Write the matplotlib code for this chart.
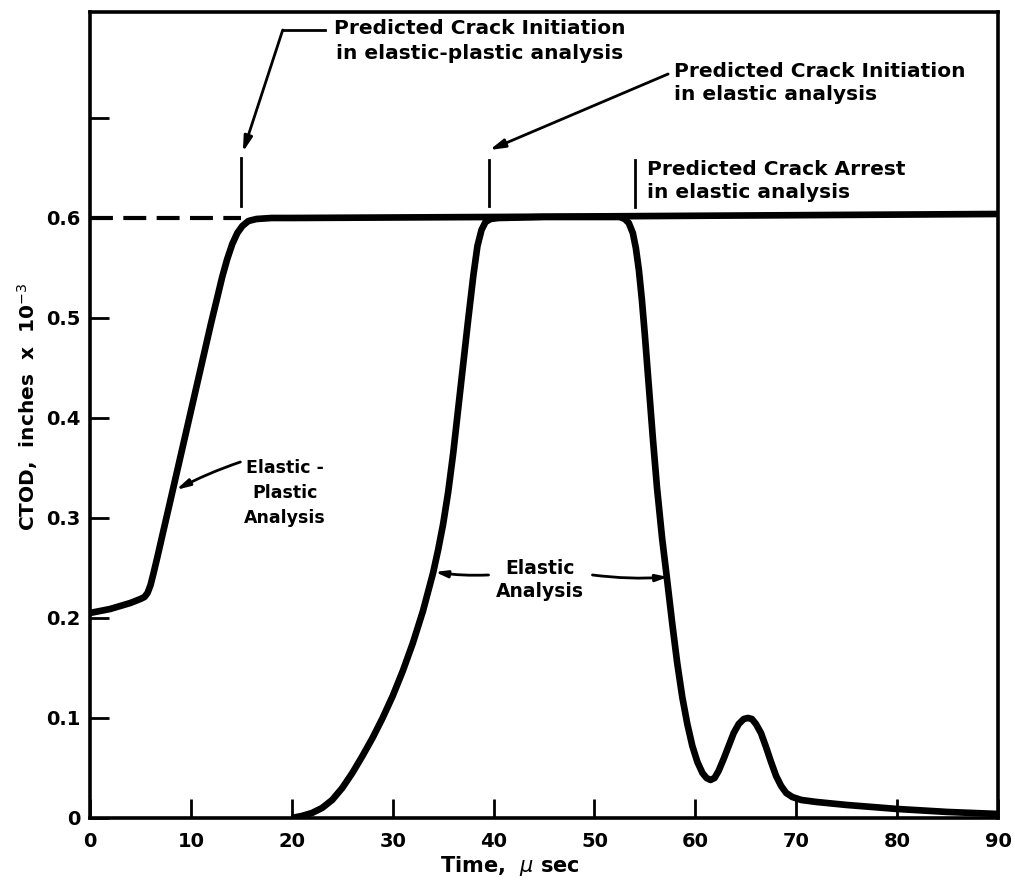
import matplotlib
matplotlib.use("Agg")
import matplotlib.pyplot as plt

# elastic-plastic analysis: CTOD (inches x 1e-3) vs time (micro sec)
ep_time = [0, 1, 2, 3, 4, 5.0, 5.4, 5.7, 6.0, 6.3, 6.7, 7.2, 8, 9, 10, 11,
           12, 12.6, 13.1, 13.6, 14.1, 14.6, 15.1, 15.7, 16.5, 18, 20, 40,
           90]
ep_ctod = [0.205, 0.207, 0.209, 0.212, 0.215, 0.219, 0.221, 0.225, 0.233,
           0.245, 0.262, 0.284, 0.319, 0.363, 0.407, 0.451, 0.495, 0.52,
           0.541, 0.559, 0.574, 0.585, 0.592, 0.597, 0.599, 0.6, 0.6, 0.601,
           0.604]

# elastic analysis
el_time = [20, 21, 22, 23, 24, 25, 26, 27, 28, 29, 30, 31, 32, 33, 34,
           34.5, 35, 35.5, 36, 36.5, 37, 37.5, 38, 38.4, 38.8, 39.2, 39.7,
           40.5, 45, 52.5, 53.0, 53.4, 53.8, 54.1, 54.4, 54.7, 55.0, 55.4,
           55.8, 56.2, 56.7, 57.2, 57.7, 58.2, 58.7, 59.2, 59.7, 60.2, 60.7,
           61.1, 61.5, 61.9, 62.3, 62.8, 63.3, 63.8, 64.3, 64.8, 65.2, 65.6,
           66.0, 66.5, 67.0, 67.5, 68.0, 68.5, 69.0, 69.6, 70.5, 72, 75, 80,
           85, 90]
el_ctod = [0.0, 0.002, 0.005, 0.010, 0.018, 0.030, 0.045, 0.062, 0.080,
           0.100, 0.122, 0.147, 0.175, 0.207, 0.245, 0.268, 0.294, 0.326,
           0.365, 0.41, 0.455, 0.5, 0.543, 0.572, 0.588, 0.596, 0.599, 0.6,
           0.601, 0.601, 0.599, 0.595, 0.585, 0.57, 0.548, 0.518, 0.482,
           0.43, 0.378, 0.33, 0.28, 0.238, 0.195, 0.155, 0.121, 0.094,
           0.072, 0.056, 0.045, 0.04, 0.038, 0.04, 0.047, 0.059, 0.072,
           0.085, 0.094, 0.099, 0.1, 0.099, 0.094, 0.085, 0.071, 0.056,
           0.042, 0.032, 0.025, 0.021, 0.018, 0.016, 0.013, 0.009, 0.006,
           0.004]

# critical CTOD level and the predicted events
ctod_crit = 0.6
t_init_ep = 15.0
t_init_el = 39.5
t_arrest_el = 54.0

x_ticks = [0, 10, 20, 30, 40, 50, 60, 70, 80, 90]
y_ticks = [0, 0.1, 0.2, 0.3, 0.4, 0.5, 0.6, 0.7]
y_labels = ["0", "0.1", "0.2", "0.3", "0.4", "0.5", "0.6", ""]

fig = plt.figure(figsize=(10.15, 8.82), dpi=100)
ax = fig.add_axes([0.0887, 0.0726, 0.8946, 0.9138])

plt.rcParams["font.family"] = ["DejaVu Sans"]
fw = "bold"
note_fs = 14.5

ax.plot(ep_time, ep_ctod, color="black", lw=4.8, solid_capstyle="butt",
        solid_joinstyle="round")
ax.plot(el_time, el_ctod, color="black", lw=4.8, solid_capstyle="butt",
        solid_joinstyle="round")

# dashed critical level up to elastic-plastic initiation
ax.plot([0, t_init_ep], [ctod_crit, ctod_crit], color="black", lw=3,
        linestyle=(0, (5.5, 2.5)))

# short vertical markers at the predicted events
ax.plot([t_init_ep, t_init_ep], [0.612, 0.66], color="black", lw=2)
ax.plot([t_init_el, t_init_el], [0.612, 0.658], color="black", lw=2)
ax.plot([t_arrest_el, t_arrest_el], [0.611, 0.658], color="black", lw=2)

arrow_kw = dict(arrowstyle="-|>,head_length=0.9,head_width=0.25",
                color="black", lw=2, shrinkA=0, shrinkB=0)

# elastic-plastic initiation: leader with a knee
ax.plot([23.3, 19.1], [0.788, 0.788], color="black", lw=2)
ax.annotate("", xy=(t_init_ep + 0.15, 0.666), xytext=(19.1, 0.788),
            arrowprops=arrow_kw)
ax.text(38.6, 0.789, "Predicted Crack Initiation", ha="center", va="center",
        fontsize=note_fs, fontweight=fw)
ax.text(38.6, 0.764, "in elastic-plastic analysis", ha="center",
        va="center", fontsize=note_fs, fontweight=fw)

# elastic initiation
ax.annotate("", xy=(t_init_el + 0.1, 0.668), xytext=(57.3, 0.744),
            arrowprops=arrow_kw)
ax.text(57.9, 0.746, "Predicted Crack Initiation", ha="left", va="center",
        fontsize=note_fs, fontweight=fw)
ax.text(57.9, 0.723, "in elastic analysis", ha="left", va="center",
        fontsize=note_fs, fontweight=fw)

# elastic arrest
ax.text(55.2, 0.648, "Predicted Crack Arrest", ha="left", va="center",
        fontsize=note_fs, fontweight=fw)
ax.text(55.2, 0.625, "in elastic analysis", ha="left", va="center",
        fontsize=note_fs, fontweight=fw)

# curve labels
ax.annotate("", xy=(8.5, 0.328), xytext=(14.9, 0.356),
            arrowprops=dict(arrowstyle="-|>,head_length=0.8,head_width=0.2",
                            color="black", lw=2, shrinkA=0, shrinkB=0,
                            connectionstyle="arc3,rad=0.04"))
ax.text(19.3, 0.325, "Elastic -\nPlastic\nAnalysis", ha="center",
        va="center", fontsize=12.5, fontweight=fw, linespacing=1.5)

ax.text(44.6, 0.238, "Elastic\nAnalysis", ha="center", va="center",
        fontsize=13.5, fontweight=fw, linespacing=1.25)
ax.annotate("", xy=(34.2, 0.246), xytext=(39.5, 0.243),
            arrowprops=dict(arrowstyle="-|>,head_length=0.7,head_width=0.2",
                            color="black", lw=2, shrinkA=0, shrinkB=0,
                            connectionstyle="arc3,rad=-0.05"))
ax.annotate("", xy=(57.3, 0.241), xytext=(49.8, 0.243),
            arrowprops=dict(arrowstyle="-|>,head_length=0.7,head_width=0.2",
                            color="black", lw=2, shrinkA=0, shrinkB=0,
                            connectionstyle="arc3,rad=0.05"))

ax.set_xlim(0, 90)
ax.set_ylim(0, 0.806)
ax.set_xticks(x_ticks)
ax.set_xticklabels([str(t) for t in x_ticks])
ax.set_yticks(y_ticks)
ax.set_yticklabels(y_labels)
ax.tick_params(direction="in", length=14, width=2, labelsize=14)
ax.tick_params(axis="x", pad=10)
ax.tick_params(axis="y", pad=7)
for lab in ax.get_xticklabels() + ax.get_yticklabels():
    lab.set_fontweight(fw)
for sp in ax.spines.values():
    sp.set_linewidth(2.6)

ax.set_xlabel(r"Time,  $\mu$ sec", fontsize=15, fontweight=fw)
ax.xaxis.set_label_coords(0.462, -0.045)
ax.set_ylabel(r"CTOD,  inches  x  10$^{-3}$", fontsize=14.5, fontweight=fw)
ax.yaxis.set_label_coords(-0.055, 0.51)

fig.savefig("out.png", dpi=100)
